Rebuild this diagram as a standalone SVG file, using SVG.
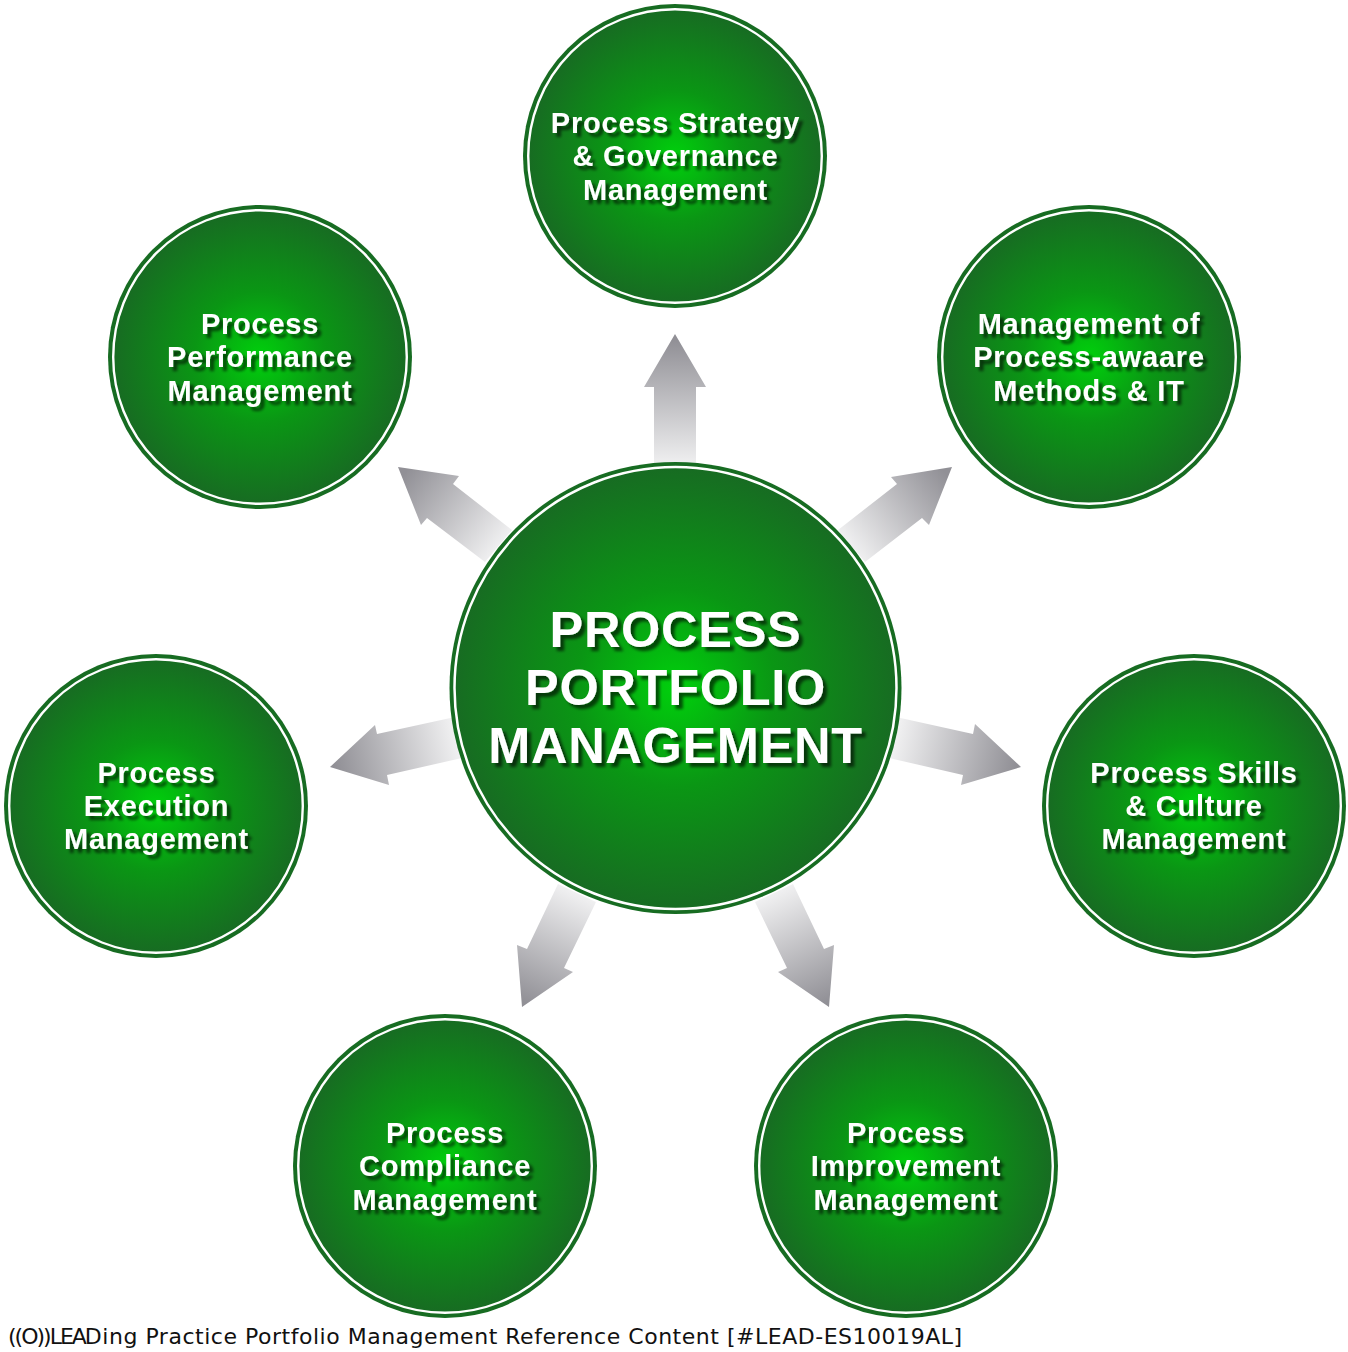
<svg xmlns="http://www.w3.org/2000/svg" width="1348" height="1352" viewBox="0 0 1348 1352">
<style>
.disc{fill:url(#g);stroke:none}
.edge{fill:#176c22}
.ring{fill:none;stroke:#fff}
.l{font-family:"Liberation Sans",Arial,sans-serif;font-weight:700;fill:#fff;text-anchor:middle;filter:url(#s)}
.sm{font-size:29px;letter-spacing:.77px}
.lg{font-size:50.5px;letter-spacing:.7px}
.foot{font-family:"DejaVu Sans",sans-serif;font-size:22px;fill:#111;letter-spacing:.52px}
</style>
<defs>
<radialGradient id="g" cx=".5" cy=".5" r=".5"><stop offset="0" stop-color="#00d00c"/><stop offset=".45" stop-color="#0a9614"/><stop offset="1" stop-color="#176c22"/></radialGradient>
<filter id="s" x="-10%" y="-20%" width="125%" height="150%"><feGaussianBlur in="SourceAlpha" stdDeviation="1.5"/><feOffset dx="3.500" dy="3.500"/><feComponentTransfer><feFuncA type="linear" slope=".6"/></feComponentTransfer><feMerge><feMergeNode/><feMergeNode in="SourceGraphic"/></feMerge></filter>
<linearGradient id="a1" gradientUnits="userSpaceOnUse" x1="675" y1="340" x2="675" y2="465"><stop offset="0" stop-color="#919096"/><stop offset="1" stop-color="#f0f0f1"/></linearGradient>
<linearGradient id="a2" gradientUnits="userSpaceOnUse" x1="405" y1="473" x2="500" y2="546"><stop offset="0" stop-color="#919096"/><stop offset="1" stop-color="#f0f0f1"/></linearGradient>
<linearGradient id="a3" gradientUnits="userSpaceOnUse" x1="945" y1="473" x2="850" y2="546"><stop offset="0" stop-color="#919096"/><stop offset="1" stop-color="#f0f0f1"/></linearGradient>
<linearGradient id="a4" gradientUnits="userSpaceOnUse" x1="335" y1="766" x2="455" y2="738"><stop offset="0" stop-color="#919096"/><stop offset="1" stop-color="#f0f0f1"/></linearGradient>
<linearGradient id="a5" gradientUnits="userSpaceOnUse" x1="1016" y1="766" x2="896" y2="738"><stop offset="0" stop-color="#919096"/><stop offset="1" stop-color="#f0f0f1"/></linearGradient>
<linearGradient id="a6" gradientUnits="userSpaceOnUse" x1="524" y1="1002" x2="576" y2="893"><stop offset="0" stop-color="#919096"/><stop offset="1" stop-color="#f0f0f1"/></linearGradient>
<linearGradient id="a7" gradientUnits="userSpaceOnUse" x1="827" y1="1002" x2="775" y2="893"><stop offset="0" stop-color="#919096"/><stop offset="1" stop-color="#f0f0f1"/></linearGradient>
</defs>
<rect width="1348" height="1352" fill="#fff"/>
<g id="connectors">
<polygon fill="url(#a1)" points="675,334 706,387 696,387 696,470 654,470 654,387 644,387"/>
<polygon fill="url(#a2)" points="398,467 459,476 453,484 512,530 485,562 427,518 421,525"/>
<polygon fill="url(#a3)" points="952,467 891,477 897,484 838,530 865,562 922,518 929,525"/>
<polygon fill="url(#a4)" points="330,767 375,725 377,734 455,717 462,758 387,775 389,785"/>
<polygon fill="url(#a5)" points="1021,767 975,724 973,734 896,717 889,758 963,775 961,785"/>
<polygon fill="url(#a6)" points="522,1007 517,945 527,949 558,884 596,902 564,968 573,972"/>
<polygon fill="url(#a7)" points="829,1007 834,945 824,949 793,884 755,902 787,968 778,972"/>
</g>
<g id="node-center"><circle class="edge" cx="675.5" cy="688" r="226"/><circle class="disc" cx="675.5" cy="688" r="220"/><circle class="ring" cx="675.5" cy="688" r="221" stroke-width="2.500"/>
<text class="l lg" x="675.5" y="647">PROCESS</text><text class="l lg" x="675.5" y="705">PORTFOLIO</text><text class="l lg" x="675.5" y="763">MANAGEMENT</text></g>
<g id="node-strategy"><circle class="edge" cx="675" cy="156" r="152"/><circle class="disc" cx="675" cy="156" r="146"/><circle class="ring" cx="675" cy="156" r="146.800" stroke-width="2.400"/>
<text class="l sm" x="675.5" y="133">Process Strategy</text><text class="l sm" x="675.5" y="166">&amp; Governance</text><text class="l sm" x="675.5" y="200">Management</text></g>
<g id="node-performance"><circle class="edge" cx="260" cy="357" r="152"/><circle class="disc" cx="260" cy="357" r="146"/><circle class="ring" cx="260" cy="357" r="146.800" stroke-width="2.400"/>
<text class="l sm" x="260" y="334">Process</text><text class="l sm" x="260" y="367">Performance</text><text class="l sm" x="260" y="401">Management</text></g>
<g id="node-methods"><circle class="edge" cx="1089" cy="357" r="152"/><circle class="disc" cx="1089" cy="357" r="146"/><circle class="ring" cx="1089" cy="357" r="146.800" stroke-width="2.400"/>
<text class="l sm" x="1089" y="334">Management of</text><text class="l sm" x="1089" y="367">Process-awaare</text><text class="l sm" x="1089" y="401">Methods &amp; IT</text></g>
<g id="node-execution"><circle class="edge" cx="156" cy="806" r="152"/><circle class="disc" cx="156" cy="806" r="146"/><circle class="ring" cx="156" cy="806" r="146.800" stroke-width="2.400"/>
<text class="l sm" x="156.500" y="783">Process</text><text class="l sm" x="156.500" y="816">Execution</text><text class="l sm" x="156.500" y="849">Management</text></g>
<g id="node-skills"><circle class="edge" cx="1194" cy="806" r="152"/><circle class="disc" cx="1194" cy="806" r="146"/><circle class="ring" cx="1194" cy="806" r="146.800" stroke-width="2.400"/>
<text class="l sm" x="1194" y="783">Process Skills</text><text class="l sm" x="1194" y="816">&amp; Culture</text><text class="l sm" x="1194" y="849">Management</text></g>
<g id="node-compliance"><circle class="edge" cx="445" cy="1166" r="152"/><circle class="disc" cx="445" cy="1166" r="146"/><circle class="ring" cx="445" cy="1166" r="146.800" stroke-width="2.400"/>
<text class="l sm" x="445" y="1143">Process</text><text class="l sm" x="445" y="1176">Compliance</text><text class="l sm" x="445" y="1210">Management</text></g>
<g id="node-improvement"><circle class="edge" cx="906" cy="1166" r="152"/><circle class="disc" cx="906" cy="1166" r="146"/><circle class="ring" cx="906" cy="1166" r="146.800" stroke-width="2.400"/>
<text class="l sm" x="906" y="1143">Process</text><text class="l sm" x="906" y="1176">Improvement</text><text class="l sm" x="906" y="1210">Management</text></g>
<text class="foot" x="8" y="1344"><tspan letter-spacing="-2">((O))LEA</tspan><tspan>Ding Practice Portfolio Management Reference Content [#LEAD-ES10019AL]</tspan></text>
</svg>
